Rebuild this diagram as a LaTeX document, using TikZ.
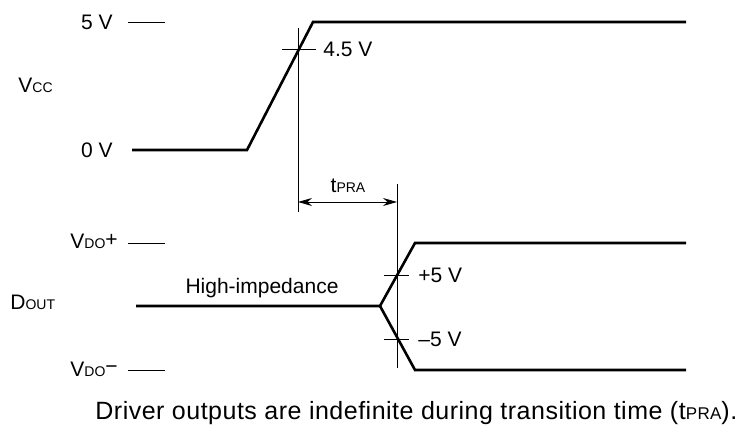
\documentclass[tikz,border=0pt]{standalone}
\usepackage{fontspec}
\setmainfont{Liberation Sans}
\usetikzlibrary{arrows.meta}
\newcommand{\sm}[1]{{\fontsize{7}{8}\selectfont #1}}
\begin{document}
\begin{tikzpicture}[>={Stealth[length=7pt,width=4pt]},x=0.5pt,y=-0.5pt,font=\fontsize{10.5}{12}\selectfont,
		wave/.style={line width=1.3pt},
		hair/.style={line width=0.45pt},
		lbl/.style={inner sep=0pt}]
		\useasboundingbox (0,0) rectangle (742,431);
		% level labels
		\node[lbl,anchor=base east] (l5) at (113,29.5) {5 V};
		\node[lbl,anchor=base east] (l0) at (113,157.5) {0 V};
		\node[lbl,anchor=base west] (vcc) at (18,93) {V\sm{CC}};
		\node[lbl,anchor=base west] (dout) at (10,310) {D\sm{OUT}};
		\node[lbl,anchor=base west] (vp) at (70,249) {V\sm{DO}\raisebox{1.2pt}{+}};
		\node[lbl,anchor=base west] (vm) at (70,377) {V\sm{DO}\raisebox{1.5pt}{−}};
		\draw[hair] (128,22) -- (165,22);
		\draw[hair] (128,243) -- (165,243);
		\draw[hair] (128,370) -- (165,370);
		% waveforms
		\draw[wave,line join=miter] (132,150) -- (247,150) -- (313,22) -- (686,22);
		\draw[wave,line join=miter] (136,306) -- (380,306) -- (415,243) -- (686,243);
		\draw[wave,line join=miter] (380,306) -- (415,370) -- (686,370);
		% timing marks
		\coordinate (ta) at (298,202);
		\coordinate (tb) at (397,202);
		\draw[hair] (298,28) -- (298,212);
		\draw[hair] (397,184) -- (397,368);
		\draw[hair] (282,49) -- (316,49);
		\draw[hair] (384,275) -- (409,275);
		\draw[hair] (384,339) -- (409,339);
		\draw[hair,<->] (ta) -- (tb);
		\node[lbl,anchor=base] (tpra) at (348,193) {t\sm{PRA}};
		\node[lbl,anchor=base west] (l45) at (323,56.5) {4.5 V};
		\node[lbl,anchor=base west] (lp5) at (418,282.5) {+5 V};
		\node[lbl,anchor=base west] (lm5) at (418,346.5) {–5 V};
		\node[lbl,anchor=base] (hiz) at (262,294) {High-impedance};
		\node[lbl,anchor=base west,font=\fontsize{12.5}{14}\selectfont\addfontfeatures{LetterSpace=2}] (note) at (95,420)
			{Driver outputs are indefinite during transition time (t{\fontsize{8.5}{10}\selectfont PRA}).};
	\end{tikzpicture}
\end{document}
